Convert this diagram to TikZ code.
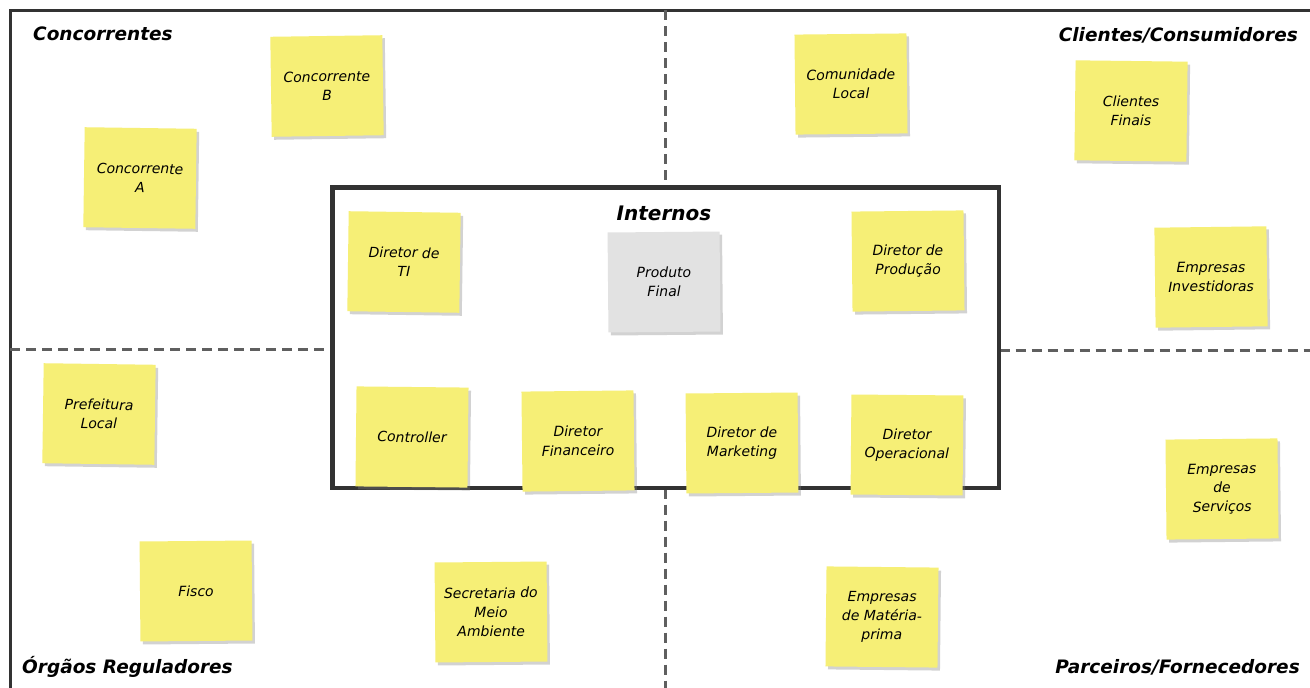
\documentclass[tikz,border=0pt]{standalone}
\usepackage{fontspec}
\setmainfont{DejaVu Sans}
\usetikzlibrary{shadows}
\definecolor{note}{RGB}{246,239,118}
\definecolor{notegray}{RGB}{226,226,226}
\definecolor{framec}{RGB}{50,50,50}
\definecolor{dashc}{RGB}{95,95,95}
\tikzset{
  sticky/.style={fill=note, minimum width=112pt, minimum height=100pt, align=center,
    font=\itshape\fontsize{14}{19}\selectfont, inner sep=2pt,
    general shadow={fill=black!50, opacity=0.35, shadow xshift=2.5pt, shadow yshift=-3pt}},
  graynote/.style={sticky, fill=notegray},
  quadlabel/.style={font=\bfseries\itshape\fontsize{18.5}{22}\selectfont, inner sep=0pt},
  frameline/.style={draw=framec, line width=3pt},
  divider/.style={draw=dashc, line width=3pt, dash pattern=on 10pt off 6pt}
}
\begin{document}
\begin{tikzpicture}[x=1pt,y=-1pt]
\useasboundingbox (0,0) rectangle (1310,688);
\clip (0,0) rectangle (1310,688);
\fill[white] (0,0) rectangle (1310,688);
% outer frame
\draw[frameline] (10,10) rectangle (1325,690);
% central box
\node[frameline, fill=white, minimum width=665pt, minimum height=299pt, inner sep=0pt] (internos) at (665.5,337.5) {};
\coordinate (topmid) at (665.5,10);
\coordinate (botmid) at (665.5,688);
\coordinate (leftmid) at (10,349);
\coordinate (rightmid) at (1310,350);
\draw[divider] (topmid) -- (internos.north);
\draw[divider] (internos.south) -- (botmid);
\draw[divider] (leftmid) -- (internos.west |- leftmid);
\draw[divider] (internos.east |- rightmid) -- (rightmid);
\draw[frameline] (internos.south west) rectangle (internos.north east);
% quadrant labels
\node[quadlabel, anchor=west] (lconc) at (33,34) {Concorrentes};
\node[quadlabel, anchor=east] (lcli) at (1298,35) {Clientes/Consumidores};
\node[quadlabel, anchor=west] (lorg) at (22,667) {Órgãos Reguladores};
\node[quadlabel, anchor=east] (lpar) at (1300,667) {Parceiros/Fornecedores};
\node[quadlabel, font=\bfseries\itshape\fontsize{20}{24}\selectfont] (lint) at (664,213) {Internos};
% sticky notes
\node[sticky, rotate=0.8] (cb) at (327,86) {Concorrente\\B};
\node[sticky, rotate=-0.8] (ca) at (140,178) {Concorrente\\A};
\node[sticky, rotate=0.6] (cl) at (851,84) {Comunidade\\Local};
\node[sticky, rotate=-0.7] (cf) at (1131,111) {Clientes\\Finais};
\node[sticky, rotate=0.7] (ei) at (1211,277) {Empresas\\Investidoras};
\node[sticky, rotate=-0.8] (dti) at (404,262) {Diretor de\\TI};
\node[graynote, rotate=0.5] (pf) at (664,282) {Produto\\Final};
\node[sticky, rotate=0.6] (dp) at (908,261) {Diretor de\\Produção};
\node[sticky, rotate=-0.6] (ctrl) at (412,437) {Controller};
\node[sticky, rotate=0.6] (dfin) at (578,441) {Diretor\\Financeiro};
\node[sticky, rotate=0.5] (dmk) at (742,443) {Diretor de\\Marketing};
\node[sticky, rotate=-0.5] (dop) at (907,445) {Diretor\\Operacional};
\node[sticky, rotate=-0.8] (pl) at (99,414) {Prefeitura\\Local};
\node[sticky, rotate=0.5] (fis) at (196,591) {Fisco};
\node[sticky, rotate=0.5] (sma) at (491,612) {Secretaria do\\Meio\\Ambiente};
\node[sticky, rotate=-0.6] (emp) at (882,617) {Empresas\\de Matéria-\\prima};
\node[sticky, rotate=0.6] (es) at (1222,489) {Empresas\\de\\Serviços};
\end{tikzpicture}
\end{document}
